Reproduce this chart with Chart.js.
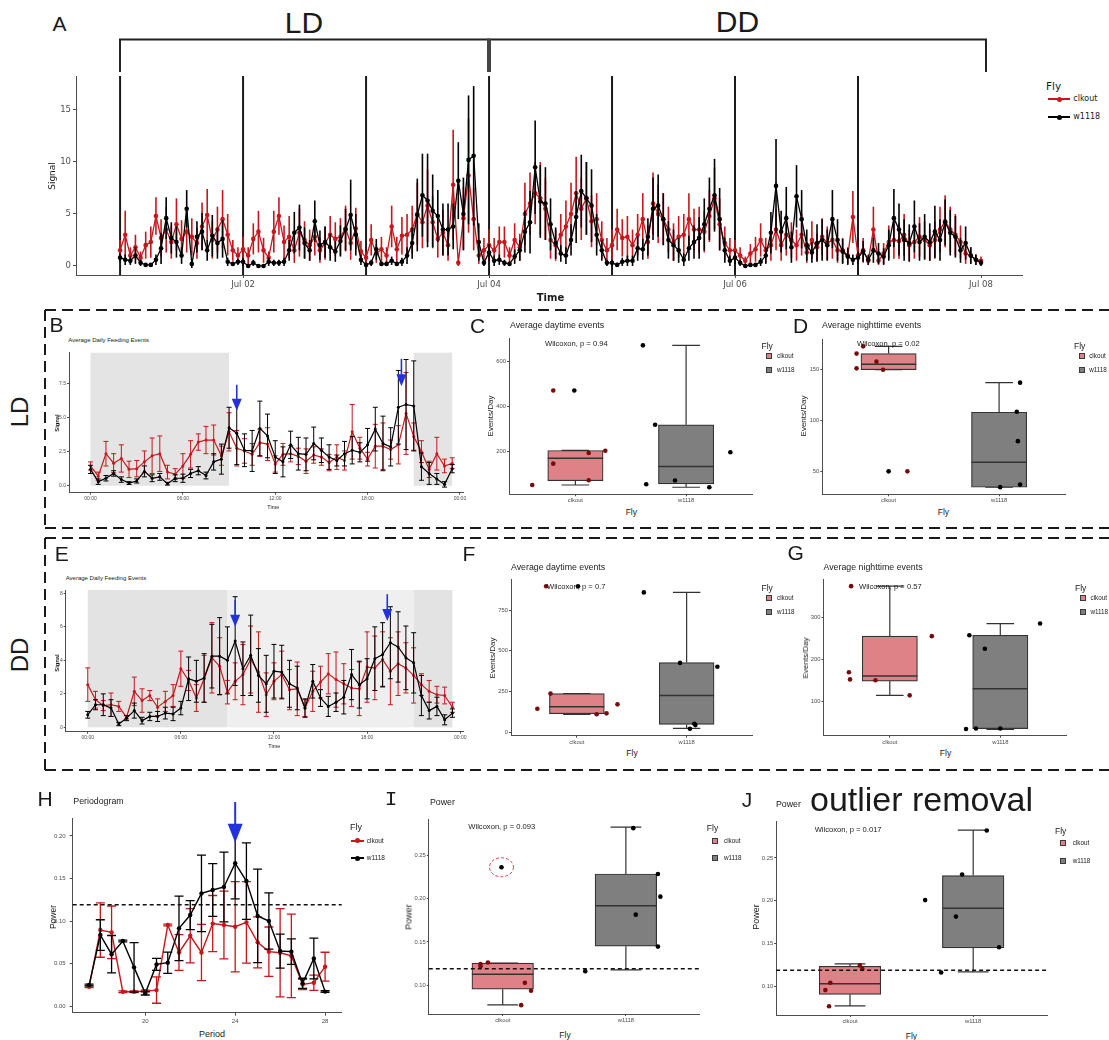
<!DOCTYPE html>
<html lang="en">
<head>
<meta charset="utf-8">
<title>Feeding rhythms</title>
<script src="https://cdn.jsdelivr.net/npm/chart.js@4.4.1/dist/chart.umd.min.js"></script>
<style>
  body { margin: 0; background: #fff; }
  #fig { position: relative; width: 1109px; height: 1040px; overflow: hidden; background: #fff;
         font-family: 'Liberation Sans', Arial, sans-serif; color: #1a1a1a; }
  #fig canvas { position: absolute; }
  .t { position: absolute; white-space: nowrap; line-height: 1; }
  .sw { position: absolute; box-sizing: border-box; border: 1px solid #3a3a3a; }
  .kl { position: absolute; height: 2px; }
  .kd { position: absolute; width: 5px; height: 5px; border-radius: 50%; }
</style>
</head>
<body>
<div id="fig">
  <svg width="1109" height="1040" style="position:absolute;left:0;top:0">
    <path d="M45 310H1109M45 310V528M45 528H1109M45 538H1109M45 538V770M45 770H1109"
          stroke="#1a1a1a" stroke-width="2" stroke-dasharray="11 6" fill="none"/>
    <path d="M120 72V39.5H986V72" stroke="#222" stroke-width="2" fill="none"/>
    <path d="M489 38.5V72" stroke="#444" stroke-width="4"/>
  </svg>
</div>
<script>
// --- A: hourly signal, Jul 01 00:00 -> Jul 08 00:00 ---
const aTickHours = [24, 72, 120, 168];
const aTickLabels = ['Jul 02', 'Jul 04', 'Jul 06', 'Jul 08'];
const aYTicks = [0, 5, 10, 15];
const aDayLines = [0, 24, 48, 72, 96, 120, 144];

const aClkout = [
  1.5,3.0,1.0,1.8,0.8,2.0,2.3,4.8,2.7,3.5,2.3,4.0,2.6,3.3,2.8,2.2,3.8,4.9,2.5,3.5,4.5,3.0,1.5,1.0,
  1.6,1.0,2.6,3.3,1.5,0.8,3.3,4.8,2.3,2.8,1.5,3.2,2.5,2.0,2.8,1.5,2.2,3.0,2.6,2.8,3.6,2.2,3.6,1.4,
  0.8,2.5,1.2,1.6,1.0,3.8,1.6,2.9,3.0,3.5,5.0,4.2,5.8,4.2,2.6,3.2,2.0,7.8,0.3,4.6,8.7,4.5,1.0,1.5,
  2.0,1.5,2.3,2.3,1.0,2.5,1.8,5.0,6.0,7.0,6.5,5.5,2.5,2.0,3.0,3.8,5.0,7.0,5.5,6.5,4.3,4.5,2.5,1.5,
  2.0,3.5,2.7,2.8,2.0,3.0,4.5,2.3,6.0,5.0,4.5,3.5,2.3,2.8,3.0,4.5,3.5,3.5,3.3,4.8,6.5,4.0,2.2,1.5,
  1.5,1.0,0.5,1.2,1.6,2.5,1.5,2.0,3.5,2.0,3.0,2.5,2.0,3.0,1.3,2.5,1.8,2.8,2.2,2.5,1.5,1.5,1.0,4.7,
  1.0,1.5,0.5,3.5,0.5,1.2,2.3,2.5,2.4,3.0,2.0,2.3,2.8,2.5,2.0,2.5,3.5,4.3,3.5,3.0,2.3,1.2,1.0,0.6,0.5
];
const aClkoutErr = [
  1.0,2.3,0.8,1.2,0.6,1.3,1.5,1.8,1.8,2.2,1.6,2.5,1.8,2.0,1.8,1.5,2.3,2.5,1.8,2.2,2.8,2.0,1.0,0.8,
  1.2,0.8,1.5,2.0,1.2,0.6,2.0,1.8,1.6,2.0,1.2,2.3,1.8,1.5,1.8,1.2,1.6,1.8,1.6,1.8,2.2,1.6,2.0,1.0,
  0.6,1.5,0.9,1.2,0.8,2.0,1.2,1.8,2.0,2.3,3.0,2.5,3.5,2.5,1.8,2.2,1.5,5.3,0.3,3.0,5.5,3.0,0.8,1.2,
  1.5,1.2,1.5,1.5,0.8,1.6,1.3,3.0,3.0,3.0,3.5,3.0,1.8,1.5,2.0,2.5,3.0,3.5,3.0,3.5,2.5,2.5,1.8,1.2,
  1.5,2.0,1.8,2.0,1.5,2.0,2.5,1.6,3.0,2.8,2.5,2.2,1.8,2.0,2.0,2.5,2.0,2.2,2.0,2.5,3.0,2.5,1.6,1.2,
  1.0,0.8,0.4,0.9,1.2,1.6,1.2,1.5,2.0,1.5,2.0,1.7,1.5,2.0,1.0,1.8,1.3,1.8,1.6,1.8,1.2,1.2,0.8,2.5,
  0.8,1.2,0.4,2.2,0.4,1.0,1.6,1.8,1.7,2.0,1.5,1.6,1.9,1.8,1.5,1.8,2.2,2.5,2.2,2.0,1.6,1.0,0.8,0.5,0.4
];
const aW1118 = [
  0.8,0.6,0.5,1.0,0.3,0.1,0.1,0.6,1.7,4.6,2.7,2.3,1.0,5.5,0.2,2.8,3.3,1.5,2.9,2.2,2.6,0.4,0.2,0.4,
  0.4,0.0,0.3,0.0,0.0,0.4,0.3,0.3,0.4,1.5,3.2,3.7,2.2,1.5,4.3,2.0,2.3,1.8,1.4,2.4,3.5,4.9,3.0,0.6,
  0.1,0.3,1.6,0.2,0.2,0.5,0.2,0.4,1.0,2.2,4.9,6.8,6.3,5.3,4.8,3.5,3.5,3.8,8.2,5.0,10.2,10.6,2.3,0.3,
  1.3,0.5,0.6,0.3,0.2,0.9,1.5,3.3,4.2,9.5,6.2,6.0,4.0,2.2,1.2,1.0,2.5,4.7,7.2,6.5,5.8,3.0,1.5,0.3,
  0.3,0.1,0.4,0.5,0.5,1.7,1.6,2.8,5.5,5.8,4.5,2.5,2.0,1.5,0.6,1.7,2.3,2.7,4.0,5.5,6.8,4.5,1.5,0.5,
  0.8,0.3,0.0,0.1,0.1,0.4,1.0,3.2,7.7,3.3,4.6,1.8,6.7,4.5,2.0,1.3,2.2,2.5,2.0,4.5,2.5,1.4,0.9,0.6,
  0.8,1.4,0.6,1.5,1.2,0.9,2.0,4.6,3.5,2.5,2.2,3.8,2.3,2.8,2.3,3.3,2.5,4.2,3.2,2.8,1.5,2.2,1.0,0.6,0.3
];
const aW1118Err = [
  0.4,0.5,0.4,0.8,0.3,0.1,0.1,0.5,1.5,2.0,1.5,1.5,0.8,1.8,0.4,1.5,1.8,1.0,2.0,1.5,1.8,0.4,0.2,0.3,
  0.4,0.1,0.3,0.1,0.1,0.4,0.3,0.3,0.4,1.0,2.0,2.2,1.5,1.0,2.0,1.4,1.5,1.3,1.0,1.5,2.0,3.4,2.0,0.5,
  0.2,0.3,1.0,0.2,0.2,0.4,0.2,0.4,0.8,1.5,3.5,4.0,4.5,3.5,2.5,2.5,2.5,2.2,3.7,3.5,6.2,6.7,1.8,0.3,
  0.8,0.5,0.5,0.3,0.2,0.7,1.0,2.0,3.0,4.5,3.5,3.5,2.5,1.5,0.8,0.8,1.5,2.5,3.5,3.5,3.5,2.0,1.0,0.3,
  0.3,0.2,0.4,0.5,0.5,1.2,1.0,1.8,3.0,3.0,2.5,1.8,1.5,1.2,0.6,1.2,1.6,2.0,2.5,3.0,3.5,3.0,1.2,0.5,
  0.6,0.3,0.1,0.1,0.1,0.4,0.8,2.0,4.5,2.0,3.0,1.5,3.0,2.8,1.5,1.0,1.8,2.0,1.5,2.8,2.0,1.2,0.8,0.5,
  0.6,1.0,0.5,1.2,1.0,0.8,1.5,2.8,2.5,2.0,1.8,2.5,1.8,2.2,1.8,2.5,2.0,2.2,2.2,2.0,1.2,1.6,0.8,0.5,0.3
];

// --- B / E: average day, 30 min bins ---
const dayTicks = [0, 6, 12, 18, 24];
const dayTickLabels = ['00:00', '06:00', '12:00', '18:00', '00:00'];
const bYTicks = [0, 2.5, 5, 7.5];
const bClkout = [1.45,0.7,2.35,1.65,2.0,1.2,1.25,1.75,2.2,2.35,1.0,0.85,1.45,2.3,3.2,3.35,3.35,2.2,3.95,2.75,2.55,2.3,3.15,3.05,1.6,2.3,2.35,2.15,1.8,2.25,2.1,1.7,2.1,1.85,3.95,2.75,1.95,2.9,2.9,2.65,3.0,5.3,3.6,2.5,1.2,2.35,1.45,1.65];
const bClkoutErr = [0.3,0.3,0.9,0.7,1.0,0.6,0.6,0.8,1.3,1.3,0.5,0.4,0.9,1.0,0.6,1.0,1.1,0.7,1.4,1.3,0.9,0.8,1.0,1.2,0.6,0.8,0.6,0.6,0.9,0.6,0.6,0.6,0.9,0.7,2.0,0.8,0.5,1.6,1.7,0.7,1.4,3.0,1.0,0.8,0.6,1.2,0.5,0.4];
const bW1118 = [1.2,0.3,0.55,0.9,0.45,0.2,0.35,1.05,0.55,0.65,0.15,0.55,0.55,0.9,1.1,0.75,1.75,1.95,4.25,3.85,2.6,2.55,4.2,3.65,2.1,1.75,3.0,2.35,2.3,3.1,2.6,2.1,1.85,2.35,2.6,2.45,3.0,4.15,3.1,2.85,5.75,5.95,5.85,1.4,0.9,0.5,0.1,1.25];
const bW1118Err = [0.3,0.2,0.2,0.2,0.2,0.1,0.15,0.4,0.25,0.25,0.1,0.25,0.3,0.3,0.3,0.25,0.6,1.1,1.5,2.3,1.2,1.5,2.0,1.6,1.2,1.1,1.0,1.2,1.2,1.2,0.9,0.9,0.4,0.9,1.0,0.7,1.2,1.6,2.0,1.4,2.7,3.3,3.3,1.0,0.8,0.4,0.2,0.3];
const bShade = [[0, 9], [21, 23.5]];
const bArrows = [[9.5, 7.4, 5.5], [20.2, 9.3, 7.3]];

const eYTicks = [0, 2, 4, 6, 8];
const eClkout = [2.55,1.65,1.3,1.35,1.25,0.6,2.15,1.6,1.9,1.2,1.55,1.9,3.5,2.8,1.75,2.9,4.15,3.65,2.1,2.75,3.15,4.05,3.3,1.95,2.75,3.15,2.25,2.3,1.15,2.15,2.7,3.2,2.85,2.6,2.35,2.3,3.6,3.55,4.05,3.35,3.8,3.55,3.1,2.55,2.15,1.95,1.9,1.2];
const eClkoutErr = [1.0,0.5,0.3,0.7,0.3,0.1,0.85,0.7,0.3,0.5,0.6,0.65,1.05,0.6,0.8,1.4,2.1,1.7,0.7,1.1,1.8,2.0,2.4,1.3,1.1,1.4,1.2,1.6,0.5,1.2,0.95,1.2,1.65,1.2,1.1,1.6,2.1,1.9,1.65,2.0,1.9,1.5,1.65,0.65,0.65,0.5,0.5,0.3];
const eW1118 = [0.75,1.35,1.35,1.15,0.2,0.55,1.0,0.4,0.65,0.65,0.85,0.8,1.15,2.9,2.75,2.95,4.25,4.25,4.0,5.15,3.5,4.3,3.1,2.6,3.35,3.3,2.6,2.35,1.15,2.75,1.75,1.25,1.5,1.8,3.15,2.55,2.9,4.1,4.35,5.05,4.8,4.15,3.85,1.9,1.0,1.25,0.45,0.85];
const eW1118Err = [0.2,0.3,0.65,0.5,0.1,0.15,0.45,0.2,0.25,0.3,0.35,0.4,0.4,1.3,1.25,1.45,1.9,2.3,2.0,2.65,1.6,2.4,1.6,1.7,1.6,1.6,1.4,1.3,0.55,1.0,0.5,0.6,0.55,1.0,1.5,1.4,1.2,1.9,1.9,2.15,2.1,1.9,1.8,1.2,0.5,0.55,0.3,0.25];
const eShade = [[0, 9], [9, 21], [21, 23.5]];
const eArrows = [[9.5, 7.6, 6.0], [19.3, 7.95, 6.35]];

// --- box panels: [min, q1, median, q3, max] per fly, then jittered points ---
const flies = ['clkout', 'w1118'];
const cBox = [[54, 73, 172, 206, 206], [44, 59, 135, 319, 669]];
const cVals = [[54, 470, 470, 148, 195, 205, 75], [669, 319, 57, 74, 44, 198]];
const cJit = [[-0.39, -0.2, -0.01, -0.2, 0.12, 0.27, 0.12], [-0.39, -0.28, -0.36, -0.1, 0.21, 0.4]];
const cBlackIdx = [2];
const cYTicks = [200, 400, 600];

const dBox = [[149.7, 149.7, 155, 165.5, 172.6], [34.4, 34.4, 59, 108, 137]];
const dVals = [[165.5, 172.6, 151, 157.6, 149.7, 50, 50], [137, 108.5, 79.6, 37, 34.5]];
const dJit = [[-0.29, -0.23, -0.29, -0.11, -0.05, 0, 0.17], [0.19, 0.16, 0.17, 0.19, 0.01]];
const dBlackIdx = [5];
const dYTicks = [50, 100, 150];

const fBox = [[111, 115, 158, 238, 238], [25, 49, 227, 428, 858]];
const fVals = [[145, 238, 111, 117, 172, 896, 896], [858, 426, 402, 53, 45, 23]];
const fJit = [[-0.36, -0.24, 0.18, 0.27, 0.37, -0.28, 0.01], [-0.39, -0.06, 0.28, 0.07, 0.08, 0.03]];
const fBlackIdx = [6];
const fYTicks = [0, 250, 500, 750];

const gBox = [[115, 149, 161, 256, 375], [34, 36, 131, 258, 286]];
const gVals = [[375, 170, 153, 151, 115, 256], [258, 226, 286, 35, 36, 36]];
const gJit = [[-0.35, -0.37, -0.36, -0.13, 0.18, 0.38], [-0.28, -0.14, 0.36, -0.31, -0.22, 0]];
const gBlackIdx = [];
const gYTicks = [100, 200, 300];

// --- H: periodogram ---
const hPeriods = [17.5,18,18.5,19,19.5,20,20.5,21,21.5,22,22.5,23,23.5,24,24.5,25,25.5,26,26.5,27,27.5,28];
const hClkout = [0.0227,0.0894,0.0867,0.0169,0.0169,0.0176,0.0188,0.0953,0.063,0.0827,0.063,0.097,0.0953,0.0933,0.0984,0.0749,0.064,0.0627,0.059,0.0255,0.0275,0.0463];
const hClkoutErr = [0.001,0.032,0.031,0.001,0.001,0.001,0.0155,0.001,0.021,0.032,0.033,0.033,0.0398,0.053,0.048,0.03,0.029,0.052,0.049,0.006,0.009,0.017];
const hW1118 = [0.0247,0.0835,0.061,0.0765,0.0455,0.015,0.049,0.051,0.0914,0.107,0.1325,0.1365,0.14,0.168,0.147,0.106,0.1,0.0647,0.064,0.0267,0.056,0.017];
const hW1118Err = [0.001,0.018,0.022,0.001,0.029,0.002,0.007,0.0125,0.038,0.017,0.045,0.031,0.041,0.042,0.045,0.055,0.033,0.02,0.015,0.006,0.024,0.001];
const hXTicks = [20, 24, 28];
const hYTicks = [0, 0.05, 0.10, 0.15, 0.20];
const hArrows = [[24, 0.24, 0.192]];
const powerThreshold = 0.119;

// --- I / J: power per fly ---
const iBox = [[0.0773, 0.0954, 0.1127, 0.1254, 0.1254], [0.1177, 0.145, 0.1919, 0.2285, 0.2827]];
const iVals = [[0.122, 0.1245, 0.1262, 0.1027, 0.0935, 0.0769, 0.2363], [0.2815, 0.2285, 0.2023, 0.1815, 0.1446, 0.1162]];
const iJit = [[-0.18, -0.18, -0.12, 0.18, 0.23, 0.15, -0.01], [0.06, 0.26, 0.28, 0.08, 0.26, -0.33]];
const iBlackIdx = [6];
const iCircled = 6;
const jBox = [[0.0775, 0.091, 0.1033, 0.1237, 0.1265], [0.1172, 0.145, 0.1914, 0.2294, 0.2823]];
const jVals = [[0.0771, 0.0959, 0.1045, 0.1247, 0.1207], [0.282, 0.2306, 0.2008, 0.1816, 0.1459, 0.1165]];
const jJit = [[-0.17, -0.2, -0.16, 0.08, 0.1], [0.11, -0.09, -0.39, -0.14, 0.21, -0.26]];
const jBlackIdx = [];
const powerTicks = [0.10, 0.15, 0.20, 0.25];

// --- styles ---
const RED = '#c8161c', BLK = '#000000', PINK = '#df8287', GREY = '#7f7f7f', PT_RED = '#7a0b0b';
const LINE = '#333333', AXIS = '#4d4d4d', TICK = '#4d4d4d', BLUE = '#2233dd';
const DJV = "'DejaVu Sans', sans-serif";
const LIB = "'Liberation Sans', Arial, sans-serif";

// --- plugins ---
const errorBars = {
  id: 'errorBars',
  beforeDatasetDraw(chart, args) {
    const ds = chart.data.datasets[args.index];
    if (!ds.errors) return;
    const ys = chart.scales.y, ctx = chart.ctx;
    ctx.save();
    ctx.strokeStyle = ds.borderColor;
    ctx.lineWidth = ds.errWidth;
    args.meta.data.forEach((pt, i) => {
      const v = ds.data[i].y, e = ds.errors[i];
      const t = ys.getPixelForValue(v + e), b = ys.getPixelForValue(v - e);
      ctx.beginPath();
      ctx.moveTo(pt.x, t); ctx.lineTo(pt.x, b);
      if (ds.cap) {
        ctx.moveTo(pt.x - ds.cap, t); ctx.lineTo(pt.x + ds.cap, t);
        ctx.moveTo(pt.x - ds.cap, b); ctx.lineTo(pt.x + ds.cap, b);
      }
      ctx.stroke();
    });
    ctx.restore();
  }
};

const shading = {
  id: 'shading',
  beforeDatasetsDraw(chart, args, o) {
    if (!o || !o.spans) return;
    const {x, y} = chart.scales, ctx = chart.ctx;
    const t = y.getPixelForValue(y.max), b = y.getPixelForValue(0);
    o.spans.forEach((sp, i) => {
      const l = x.getPixelForValue(sp[0]), r = x.getPixelForValue(sp[1]);
      ctx.fillStyle = o.colors[i];
      ctx.fillRect(l, t, r - l, b - t);
    });
  }
};

const vlines = {
  id: 'vlines',
  beforeDatasetsDraw(chart, args, o) {
    if (!o || !o.at) return;
    const ctx = chart.ctx, x = chart.scales.x, a = chart.chartArea;
    ctx.save();
    ctx.strokeStyle = '#1a1a1a';
    ctx.lineWidth = 2;
    o.at.forEach(v => {
      const px = x.getPixelForValue(v);
      ctx.beginPath(); ctx.moveTo(px, a.top); ctx.lineTo(px, a.bottom); ctx.stroke();
    });
    ctx.restore();
  }
};

const hline = {
  id: 'hline',
  afterDatasetsDraw(chart, args, o) {
    if (!o || o.value === undefined) return;
    const ctx = chart.ctx, a = chart.chartArea, py = chart.scales.y.getPixelForValue(o.value);
    ctx.save();
    ctx.strokeStyle = '#111';
    ctx.lineWidth = 1.5;
    ctx.setLineDash([4, 3]);
    ctx.beginPath(); ctx.moveTo(a.left, py); ctx.lineTo(a.right, py); ctx.stroke();
    ctx.restore();
  }
};

const arrows = {
  id: 'arrows',
  afterDatasetsDraw(chart, args, o) {
    if (!o || !o.items) return;
    const {x, y} = chart.scales, ctx = chart.ctx;
    ctx.save();
    ctx.strokeStyle = BLUE; ctx.fillStyle = BLUE; ctx.lineWidth = o.width;
    o.items.forEach(it => {
      const px = x.getPixelForValue(it[0]), p0 = y.getPixelForValue(it[1]), p1 = y.getPixelForValue(it[2]);
      ctx.beginPath(); ctx.moveTo(px, p0); ctx.lineTo(px, p1 - o.head + 1); ctx.stroke();
      ctx.beginPath();
      ctx.moveTo(px - o.half, p1 - o.head); ctx.lineTo(px + o.half, p1 - o.head); ctx.lineTo(px, p1);
      ctx.closePath(); ctx.fill();
    });
    ctx.restore();
  }
};

const boxes = {
  id: 'boxes',
  beforeDatasetsDraw(chart, args, o) {
    if (!o || !o.stats) return;
    const {x, y} = chart.scales, ctx = chart.ctx;
    ctx.save();
    ctx.strokeStyle = LINE; ctx.lineWidth = 1.2;
    o.stats.forEach((s, i) => {
      const px = x.getPixelForValue(i + 1);
      const lo = y.getPixelForValue(s[0]), q1 = y.getPixelForValue(s[1]);
      const q3 = y.getPixelForValue(s[3]), hi = y.getPixelForValue(s[4]);
      ctx.beginPath();
      ctx.moveTo(px, q1); ctx.lineTo(px, lo);
      ctx.moveTo(px - o.cap, lo); ctx.lineTo(px + o.cap, lo);
      ctx.moveTo(px, q3); ctx.lineTo(px, hi);
      ctx.moveTo(px - o.cap, hi); ctx.lineTo(px + o.cap, hi);
      ctx.stroke();
    });
    ctx.restore();
  },
  afterDatasetDraw(chart, args, o) {
    if (!o || !o.stats || chart.data.datasets[args.index].type !== 'bar') return;
    const {x, y} = chart.scales, ctx = chart.ctx;
    ctx.save();
    ctx.strokeStyle = LINE; ctx.lineWidth = 1.5;
    o.stats.forEach((s, i) => {
      const px = x.getPixelForValue(i + 1), pm = y.getPixelForValue(s[2]);
      ctx.beginPath(); ctx.moveTo(px - o.half, pm); ctx.lineTo(px + o.half, pm); ctx.stroke();
    });
    ctx.restore();
  }
};

const ring = {
  id: 'ring',
  afterDatasetsDraw(chart, args, o) {
    if (!o || o.x === undefined) return;
    const ctx = chart.ctx;
    const px = chart.scales.x.getPixelForValue(o.x), py = chart.scales.y.getPixelForValue(o.y);
    ctx.save();
    ctx.strokeStyle = '#e8393c'; ctx.lineWidth = 1; ctx.setLineDash([3, 2]);
    ctx.beginPath(); ctx.ellipse(px, py, o.rx, o.ry, 0, 0, Math.PI * 2); ctx.stroke();
    ctx.restore();
  }
};

Chart.register(errorBars, shading, vlines, hline, arrows, boxes, ring);

// --- helpers ---
const fig = document.getElementById('fig');

// box = canvas [left, top, width, height]; area = plot area [x0, y0, x1, y1], page pixels
function mk(box, area, cfg) {
  const cv = document.createElement('canvas');
  cv.width = box[2]; cv.height = box[3];
  cv.style.left = box[0] + 'px'; cv.style.top = box[1] + 'px';
  cv.style.width = box[2] + 'px'; cv.style.height = box[3] + 'px';
  fig.appendChild(cv);
  const o = cfg.options;
  o.responsive = false;
  o.animation = false;
  o.devicePixelRatio = 1;
  o.events = [];
  o.layout = {autoPadding: false, padding: {left: 0, bottom: 0, top: area[1] - box[1], right: box[0] + box[2] - area[2]}};
  o.scales.x.afterFit = s => { s.height = box[1] + box[3] - area[3]; };
  o.scales.y.afterFit = s => { s.width = area[0] - box[0]; };
  o.plugins = Object.assign({legend: {display: false}, tooltip: {enabled: false}}, o.plugins || {});
  return new Chart(cv, cfg);
}

function axis(min, max, ticks, fmt, font, tickLen, pad) {
  return {
    type: 'linear', min, max, offset: false,
    border: {display: true, color: AXIS, width: 1},
    grid: {drawOnChartArea: false, drawTicks: true, tickLength: tickLen, color: AXIS, offset: false},
    ticks: {font, color: TICK, padding: pad, maxRotation: 0, autoSkip: false, callback: fmt},
    afterBuildTicks: s => { s.ticks = ticks.map(v => ({value: v})); }
  };
}

function series(vals, errs, xs, color, order, st) {
  return {
    data: vals.map((v, i) => ({x: xs[i], y: v})),
    errors: errs, errWidth: st.ew, cap: st.cap,
    showLine: true, tension: 0, order,
    borderColor: color, backgroundColor: color,
    pointBackgroundColor: color, pointBorderWidth: 0,
    borderWidth: st.lw, pointRadius: st.r
  };
}

function boxChart(box, area, stats, vals, jit, blackIdx, yr, yTicks, fmt, extra) {
  const bw = (area[2] - area[0]) / 2.2 * 0.5;
  const pts = [], cols = [];
  vals.forEach((g, gi) => g.forEach((v, k) => {
    pts.push({x: gi + 1 + jit[gi][k], y: v});
    cols.push(gi === 1 || blackIdx.includes(k) ? BLK : PT_RED);
  }));
  const font = {family: LIB, size: 5.8};
  return mk(box, area, {
    type: 'scatter',
    data: {datasets: [
      {data: pts, pointBackgroundColor: cols, pointBorderColor: cols, pointBorderWidth: 0, pointRadius: 2.3, order: 0},
      {type: 'bar', data: stats.map((s, i) => ({x: i + 1, y: [s[1], s[3]]})),
       backgroundColor: [PINK, GREY], borderColor: LINE, borderWidth: 1.2, borderSkipped: false,
       barThickness: bw, order: 1}
    ]},
    options: {
      scales: {
        x: axis(0.4, 2.6, [1, 2], v => flies[Math.round(v) - 1], font, 2, 1),
        y: axis(yr[0], yr[1], yTicks, fmt, font, 2, 1)
      },
      plugins: Object.assign({boxes: {stats, half: bw / 2, cap: bw / 4}}, extra || {})
    }
  });
}

function label(s, x, y, size, o = {}) {
  const d = document.createElement('div');
  d.className = 't';
  d.textContent = s;
  d.style.left = x + 'px';
  d.style.top = y + 'px';
  d.style.fontSize = size + 'px';
  if (o.f) d.style.fontFamily = o.f;
  if (o.w) d.style.fontWeight = o.w;
  if (o.c) d.style.color = o.c;
  d.style.transform = `translate(${o.a === 'l' ? '0' : '-50%'},-50%)` + (o.rot ? ` rotate(${o.rot}deg)` : '');
  fig.appendChild(d);
}

function keyBox(x, y, color) {
  const d = document.createElement('div');
  d.className = 'sw';
  d.style.left = x + 'px'; d.style.top = (y - 3) + 'px';
  d.style.width = '6px'; d.style.height = '6px'; d.style.background = color;
  fig.appendChild(d);
}

function keyLine(x0, x1, y, color) {
  const l = document.createElement('div');
  l.className = 'kl';
  l.style.left = x0 + 'px'; l.style.top = (y - 1) + 'px'; l.style.width = (x1 - x0) + 'px'; l.style.background = color;
  fig.appendChild(l);
  const d = document.createElement('div');
  d.className = 'kd';
  d.style.left = ((x0 + x1) / 2 - 2.5) + 'px'; d.style.top = (y - 2.5) + 'px'; d.style.background = color;
  fig.appendChild(d);
}

function boxLegend(fx, fy, sx, rows, tx) {
  label('Fly', fx, fy, 8.5, {a: 'l'});
  flies.forEach((f, i) => {
    keyBox(sx, rows[i], [PINK, GREY][i]);
    label(f, tx, rows[i], 6.3, {a: 'l'});
  });
}

// --- A ---
const aHours = aW1118.map((_, i) => i);
const stA = {r: 2.3, lw: 1.3, ew: 1.6, cap: 0};
mk([30, 60, 1010, 240], [76, 76, 1022, 275], {
  type: 'scatter',
  data: {datasets: [
    series(aW1118, aW1118Err, aHours, BLK, 0, stA),
    series(aClkout, aClkoutErr, aHours, RED, 1, stA)
  ]},
  options: {
    scales: {
      x: axis(-8.6, 176, aTickHours, v => aTickLabels[aTickHours.indexOf(v)], {family: DJV, size: 8.5}, 3, 2),
      y: axis(-0.87, 18.27, aYTicks, v => v, {family: DJV, size: 8.5}, 3, 2)
    },
    plugins: {vlines: {at: aDayLines}}
  }
});

// --- B / E ---
const halfHours = bW1118.map((_, i) => i / 2);
const stDay = {r: 1.5, lw: 1.2, ew: 1, cap: 2.5};
const dayFont = {family: LIB, size: 5};
mk([40, 345, 435, 160], [69, 352.7, 463, 492.7], {
  type: 'scatter',
  data: {datasets: [
    series(bW1118, bW1118Err, halfHours, BLK, 0, stDay),
    series(bClkout, bClkoutErr, halfHours, RED, 1, stDay)
  ]},
  options: {
    scales: {
      x: axis(-1.4, 24.2, dayTicks, v => dayTickLabels[dayTicks.indexOf(v)], dayFont, 2, 1),
      y: axis(-0.51, 9.75, bYTicks, v => v.toFixed(1), dayFont, 2, 1)
    },
    plugins: {
      shading: {spans: bShade, colors: ['#e4e4e4', '#e4e4e4']},
      arrows: {items: bArrows, head: 12, half: 5, width: 1.6}
    }
  }
});

mk([40, 582, 435, 162], [65.7, 590, 463.3, 731.7], {
  type: 'scatter',
  data: {datasets: [
    series(eW1118, eW1118Err, halfHours, BLK, 0, stDay),
    series(eClkout, eClkoutErr, halfHours, RED, 1, stDay)
  ]},
  options: {
    scales: {
      x: axis(-1.42, 24.2, dayTicks, v => dayTickLabels[dayTicks.indexOf(v)], dayFont, 2, 1),
      y: axis(-0.26, 8.2, eYTicks, v => v, dayFont, 2, 1)
    },
    plugins: {
      shading: {spans: eShade, colors: ['#e3e3e3', '#efefef', '#e3e3e3']},
      arrows: {items: eArrows, head: 12, half: 5, width: 1.6}
    }
  }
});

// --- C, D, F, G ---
boxChart([480, 330, 285, 175], [509, 338.3, 752.5, 494.3], cBox, cVals, cJit, cBlackIdx, [13, 700], cYTicks, v => v);
boxChart([795, 330, 285, 175], [822.3, 339.3, 1065.4, 494.3], dBox, dVals, dJit, dBlackIdx, [27.5, 179.5], dYTicks, v => v);
boxChart([480, 570, 285, 177], [511, 579, 752.5, 735.7], fBox, fVals, fJit, fBlackIdx, [-20, 940], fYTicks, v => v);
boxChart([795, 570, 285, 177], [823.5, 579, 1066.6, 735.7], gBox, gVals, gJit, gBlackIdx, [19, 392], gYTicks, v => v);

// --- H ---
const stH = {r: 2.2, lw: 1.4, ew: 1.3, cap: 4.5};
const smallFont = {family: LIB, size: 6};
mk([40, 790, 315, 235], [72.7, 818.3, 341.7, 1012.7], {
  type: 'scatter',
  data: {datasets: [
    series(hW1118, hW1118Err, hPeriods, BLK, 0, stH),
    series(hClkout, hClkoutErr, hPeriods, RED, 1, stH)
  ]},
  options: {
    scales: {
      x: axis(16.77, 28.74, hXTicks, v => v, smallFont, 3, 2),
      y: axis(-0.0078, 0.2208, hYTicks, v => v.toFixed(2), smallFont, 3, 4)
    },
    plugins: {
      hline: {value: powerThreshold},
      arrows: {items: hArrows, head: 19, half: 7.5, width: 2}
    }
  }
});

// --- I, J ---
boxChart([395, 810, 318, 215], [428.8, 819.3, 699.8, 1014], iBox, iVals, iJit, iBlackIdx, [0.0667, 0.2917], powerTicks, v => v.toFixed(2),
  {hline: {value: powerThreshold}, ring: {x: 1 + iJit[0][iCircled], y: iVals[0][iCircled], rx: 12, ry: 9.5}});
boxChart([745, 812, 315, 215], [776.1, 821.7, 1047.1, 1015], jBox, jVals, jJit, jBlackIdx, [0.0669, 0.2922], powerTicks, v => v.toFixed(2),
  {hline: {value: powerThreshold}});

// --- text ---
label('A', 59.5, 22.5, 21);
label('LD', 304, 22.5, 30);
label('DD', 737.5, 21.5, 30);
label('Signal', 52, 176, 9, {f: DJV, rot: -90});
label('Time', 550.5, 297.5, 10, {f: DJV, w: 'bold'});
label('Fly', 1046, 86, 10.5, {a: 'l', f: DJV});
keyLine(1048, 1070, 99, RED);
keyLine(1048, 1070, 117.3, BLK);
label('clkout', 1073.3, 99, 8, {a: 'l', f: DJV});
label('w1118', 1073.3, 117.3, 8, {a: 'l', f: DJV});

label('LD', 20, 412, 24, {rot: -90});
label('DD', 20, 655, 24, {rot: -90});

label('B', 56.5, 323.5, 21);
label('Average Daily Feeding Events', 68.3, 340, 6, {a: 'l'});
label('Signal', 57.7, 423, 5.8, {rot: -90, w: 'bold'});
label('Time', 273.3, 507.7, 5.5);

label('E', 61.7, 553.3, 21);
label('Average Daily Feeding Events', 65.7, 578.3, 6, {a: 'l'});
label('Signal', 57.7, 663.3, 5.8, {rot: -90, w: 'bold'});
label('Time', 274.3, 746.7, 5.5);

label('C', 477.5, 324.5, 21);
label('Average daytime events', 510, 324.7, 8.8, {a: 'l'});
label('Wilcoxon, p = 0.94', 545, 344.3, 7.6, {a: 'l'});
label('Events/Day', 490.5, 416, 8, {rot: -90});
label('Fly', 631.3, 511.7, 8.5);
boxLegend(761.5, 346, 766, [356.3, 370], 777);

label('D', 800.7, 324.5, 21);
label('Average nighttime events', 822, 324.7, 8.8, {a: 'l'});
label('Wilcoxon, p = 0.02', 857, 344.3, 7.6, {a: 'l'});
label('Events/Day', 803.8, 416, 8, {rot: -90});
label('Fly', 943.4, 511.7, 8.5);
boxLegend(1074, 346, 1079, [356.3, 370], 1089.2);

label('F', 469, 553, 21);
label('Average daytime events', 511, 566.7, 8.8, {a: 'l'});
label('Wilcoxon, p = 0.7', 547, 586.7, 7.6, {a: 'l'});
label('Events/Day', 493, 658.3, 8, {rot: -90});
label('Fly', 632, 753.3, 8.5);
boxLegend(761.5, 587.7, 766, [598.3, 612.3], 777);

label('G', 795.6, 552, 21);
label('Average nighttime events', 823.5, 566.7, 8.8, {a: 'l'});
label('Wilcoxon, p = 0.57', 859, 586.7, 7.6, {a: 'l'});
label('Events/Day', 806, 657.7, 8, {rot: -90});
label('Fly', 945.5, 753.3, 8.5);
boxLegend(1075, 587.7, 1079.8, [598.3, 612.3], 1090.5);

label('H', 45, 798, 21);
label('Periodogram', 73.3, 800.7, 8.8, {a: 'l'});
label('Power', 52.7, 916.7, 8.5, {rot: -90});
label('Period', 212, 1034.3, 9);
label('Fly', 350, 827.3, 9, {a: 'l'});
keyLine(350.7, 364, 840.7, RED);
keyLine(350.7, 364, 858.3, BLK);
label('clkout', 366.7, 840.7, 6.5, {a: 'l'});
label('w1118', 366.7, 858.3, 6.5, {a: 'l'});

label('I', 391, 799.3, 21, {f: "'Liberation Mono', monospace"});
label('Power', 430, 801.7, 8.8, {a: 'l'});
label('Wilcoxon, p = 0.093', 468.3, 827.3, 7.6, {a: 'l'});
label('Power', 408.8, 916.7, 9, {rot: -90});
label('Fly', 565, 1035, 8.5);
boxLegend(706.8, 828.3, 711.5, [840.7, 858.3], 724);

label('J', 747, 799, 21);
label('Power', 776, 804, 8.8, {a: 'l'});
label('outlier removal', 810, 799, 34, {a: 'l'});
label('Wilcoxon, p = 0.017', 814.7, 830, 7.6, {a: 'l'});
label('Power', 755.6, 916.7, 9, {rot: -90});
label('Fly', 911.4, 1036, 8.5);
boxLegend(1055, 830.7, 1059.7, [843.3, 861], 1072.7);
</script>
</body>
</html>
